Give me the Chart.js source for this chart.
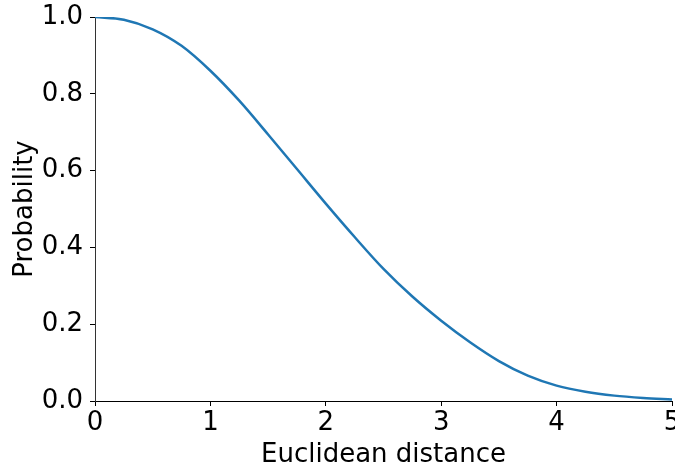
<!DOCTYPE html>
<html>
<head>
<meta charset="utf-8">
<script src="https://cdn.jsdelivr.net/npm/chart.js@4"></script>
<style>
  html, body { margin: 0; padding: 0; background: #fff; }
  #wrap { width: 675px; height: 468px; }
</style>
</head>
<body>
<div id="wrap"><canvas id="probChart" width="675" height="468"></canvas></div>
<script>
/* ============================================================
   Data: probability vs euclidean distance
============================================================ */
const distances = [0, 0.25, 0.5, 0.75, 1.0, 1.25, 1.5, 1.75, 2.0, 2.25, 2.5,
                   2.75, 3.0, 3.25, 3.5, 3.75, 4.0, 4.25, 4.5, 4.75, 5.0];
const probabilities = [1.000, 0.993, 0.968, 0.925, 0.860, 0.782, 0.694, 0.604, 0.514, 0.427, 0.344,
                       0.272, 0.209, 0.153, 0.104, 0.066, 0.040, 0.024, 0.014, 0.008, 0.004];
const xTicks = [0, 1, 2, 3, 4, 5];
const yTicks = [0, 0.2, 0.4, 0.6, 0.8, 1.0];

const FONT = "'DejaVu Sans', sans-serif";
const FONT_SIZE = 26;

/* ============================================================
   Chart
============================================================ */
const ctx = document.getElementById("probChart").getContext("2d");

new Chart(ctx, {
    type: "line",
    data: {
        datasets: [{
            data: distances.map((d, i) => ({ x: d, y: probabilities[i] })),
            borderColor: "#1f77b4",
            borderWidth: 2.5,
            pointRadius: 0,
            fill: false,
            cubicInterpolationMode: "monotone"
        }]
    },
    options: {
        responsive: false,
        animation: false,
        layout: { padding: { top: 17, right: 3, left: 0, bottom: 0 } },
        plugins: {
            legend: { display: false },
            tooltip: { enabled: false }
        },
        scales: {
            x: {
                type: "linear",
                min: 0,
                max: 5,
                afterBuildTicks: s => { s.ticks = xTicks.map(v => ({ value: v })); },
                afterFit: s => { s.height = 67; s.paddingLeft = 0; s.paddingRight = 0; },
                border: { display: true, color: "#000", width: 1 },
                grid: { display: true, drawOnChartArea: false, drawTicks: true, tickLength: 5, color: "#000" },
                ticks: {
                    color: "#000",
                    padding: 2,
                    maxRotation: 0,
                    font: { family: FONT, size: FONT_SIZE },
                    callback: v => String(v)
                },
                title: {
                    display: true,
                    text: "Euclidean distance",
                    color: "#000",
                    padding: { top: 0, bottom: -3 },
                    font: { family: FONT, size: FONT_SIZE }
                }
            },
            y: {
                min: 0,
                max: 1,
                afterBuildTicks: s => { s.ticks = yTicks.map(v => ({ value: v })); },
                afterFit: s => { s.width = 95; s.paddingTop = 0; s.paddingBottom = 0; },
                border: { display: true, color: "#333", width: 1 },
                grid: { display: true, drawOnChartArea: false, drawTicks: true, tickLength: 5, color: "#000" },
                ticks: {
                    color: "#000",
                    padding: 7,
                    font: { family: FONT, size: FONT_SIZE },
                    callback: v => v.toFixed(1)
                },
                title: {
                    display: true,
                    text: "Probability",
                    color: "#000",
                    padding: { top: 10, bottom: 0 },
                    font: { family: FONT, size: FONT_SIZE }
                }
            }
        }
    }
});
</script>
</body>
</html>
